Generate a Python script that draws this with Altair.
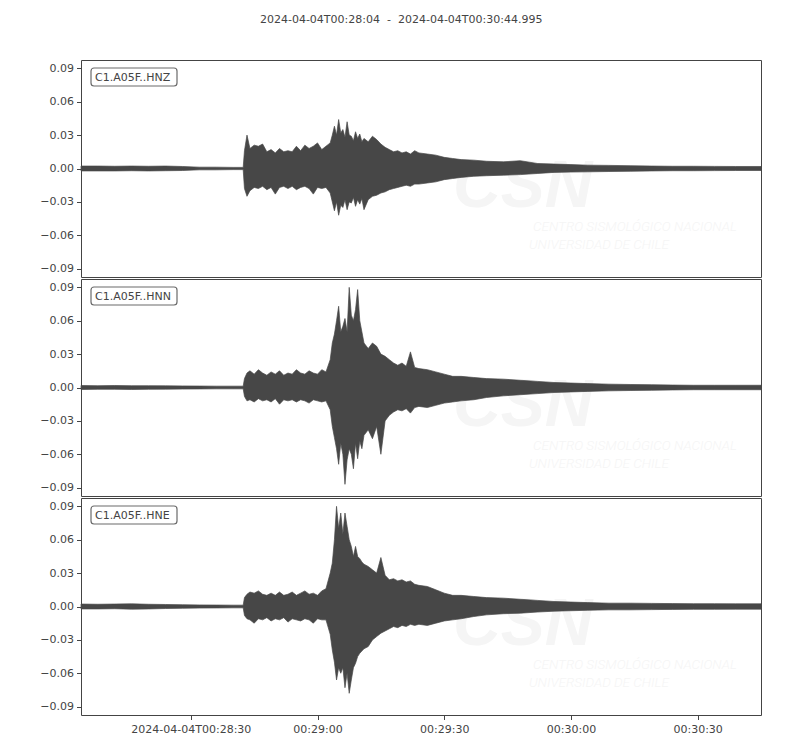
"""
Three-component accelerogram C1.A05F (HNZ, HNN, HNE), drawn as amplitude envelopes
"""
import pandas as pd
import altair as alt

# seconds after 2024-04-04T00:28:04
t_sec = [0, 4, 8, 12, 16, 20, 24, 28, 32, 36,
         38.4, 38.7, 39.3,
         40, 41, 42, 43, 44, 45, 46, 47, 48, 49, 50, 51, 52, 53, 54, 55, 56, 57, 58,
         59, 59.5, 60, 60.5, 61, 61.5, 62, 62.5, 63, 63.5, 64, 64.5, 65, 65.5, 66, 66.5, 67,
         68, 69, 70, 71, 72, 73, 74, 75, 76, 77, 78, 79, 80,
         82, 84, 86, 88, 90, 93, 96, 100, 104, 108, 112, 116, 120, 125, 130, 135, 140, 145, 150, 155, 160.995]

hnz_hi = [.0022, .0022, .0020, .0022, .0020, .0022, .0018, .0012, .0012, .0010,
          .0010, .016, .030,
          .018, .021, .020, .022, .015, .017, .014, .018, .015, .016, .015, .020, .016, .021, .018, .020, .023, .017, .020,
          .023, .030, .038, .030, .044, .032, .035, .028, .042, .030, .029, .025, .033, .027, .031, .024, .027,
          .024, .029, .026, .022, .019, .017, .015, .016, .014, .015, .013, .016, .014,
          .013, .012, .010, .009, .008, .0075, .0065, .006, .007, .0045, .004, .0035, .003, .0028, .0025, .0022, .002, .002, .0019, .0018, .0018]
hnz_lo = [-.0022, -.0022, -.0022, -.0020, -.0022, -.0020, -.0018, -.0012, -.0012, -.0010,
          -.0010, -.018, -.025,
          -.020, -.017, -.018, -.016, -.019, -.017, -.023, -.017, -.016, -.018, -.016, -.019, -.017, -.016, -.018, -.023, -.017, -.018, -.017,
          -.022, -.030, -.038, -.030, -.042, -.033, -.035, -.028, -.037, -.030, -.031, -.026, -.034, -.028, -.032, -.027, -.037,
          -.028, -.025, -.024, -.022, -.021, -.019, -.018, -.017, -.016, -.015, -.016, -.014, -.014,
          -.013, -.012, -.010, -.009, -.008, -.007, -.0065, -.006, -.0055, -.0045, -.0035, -.0032, -.003, -.0027, -.0025, -.0022, -.002, -.002, -.0019, -.0018, -.0018]

hnn_hi = [.0018, .0016, .0018, .0016, .0016, .0015, .0014, .0013, .0012, .0012,
          .0012, .008, .013,
          .015, .012, .016, .013, .011, .014, .012, .015, .011, .013, .012, .016, .013, .012, .015, .013, .012, .016, .014,
          .025, .040, .048, .060, .073, .050, .055, .062, .050, .090, .065, .060, .070, .088, .060, .050, .040,
          .035, .040, .037, .030, .028, .025, .022, .020, .022, .019, .032, .018, .017,
          .016, .014, .012, .010, .010, .009, .008, .0075, .0065, .0055, .0045, .004, .0035, .003, .0027, .0025, .0022, .002, .002, .002, .002]
hnn_lo = [-.0018, -.0016, -.0016, -.0018, -.0016, -.0015, -.0014, -.0013, -.0012, -.0012,
          -.0012, -.008, -.012,
          -.011, -.013, -.010, -.012, -.011, -.013, -.010, -.015, -.011, -.012, -.011, -.013, -.011, -.012, -.014, -.011, -.012, -.013, -.012,
          -.020, -.035, -.045, -.055, -.069, -.050, -.060, -.087, -.065, -.055, -.060, -.073, -.050, -.064, -.048, -.055, -.043,
          -.038, -.046, -.035, -.060, -.030, -.025, -.022, -.020, -.021, -.019, -.023, -.018, -.017,
          -.018, -.016, -.014, -.013, -.012, -.011, -.009, -.0075, -.0065, -.0055, -.0045, -.004, -.0035, -.003, -.0027, -.0025, -.0022, -.002, -.002, -.002, -.002]

hne_hi = [.0022, .0020, .0022, .0024, .0020, .0018, .0016, .0014, .0013, .0012,
          .0012, .008, .011,
          .013, .012, .014, .011, .010, .012, .010, .013, .010, .011, .013, .010, .012, .014, .011, .012, .010, .014, .016,
          .030, .039, .060, .090, .070, .084, .065, .084, .072, .060, .054, .045, .054, .045, .043, .040, .038,
          .036, .033, .030, .044, .028, .024, .025, .023, .024, .022, .023, .020, .019,
          .018, .015, .012, .010, .010, .009, .008, .0075, .0065, .0055, .0045, .004, .0035, .003, .003, .0028, .0026, .0025, .0025, .0024, .0024]
hne_lo = [-.0022, -.0022, -.0020, -.0024, -.0022, -.0018, -.0016, -.0014, -.0013, -.0012,
          -.0012, -.008, -.011,
          -.012, -.015, -.011, -.012, -.010, -.013, -.011, -.012, -.010, -.014, -.011, -.012, -.013, -.011, -.012, -.015, -.011, -.012, -.012,
          -.025, -.039, -.050, -.066, -.055, -.060, -.055, -.073, -.060, -.078, -.066, -.055, -.051, -.045, -.042, -.040, -.038,
          -.036, -.030, -.027, -.024, -.022, -.020, -.018, -.019, -.017, -.018, -.016, -.017, -.016,
          -.017, -.015, -.013, -.012, -.011, -.009, -.0075, -.0065, -.006, -.005, -.0042, -.0038, -.0034, -.003, -.003, -.0028, -.0026, -.0025, -.0025, -.0024, -.0024]

channels = ["C1.A05F..HNZ", "C1.A05F..HNN", "C1.A05F..HNE"]
# non-breaking spaces keep the double gaps around the dash
title_text = "2024-04-04T00:28:04\u00a0\u00a0-\u00a0\u00a02024-04-04T00:30:44.995"

x_tick_sec = [26, 56, 86, 116, 146]
x_tick_labels = ["2024-04-04T00:28:30", "00:29:00", "00:29:30", "00:30:00", "00:30:30"]
y_ticks = [-0.09, -0.06, -0.03, 0.0, 0.03, 0.06, 0.09]

TRACE = "#474747"
TEXT = "#444444"
FONT = "DejaVu Sans"
WMARK = "#f5f5f5"

label_expr = "[{}][indexof([{}], datum.value)]".format(
    ",".join("'%s'" % s for s in x_tick_labels),
    ",".join(str(v) for v in x_tick_sec),
)


def make_panel(name, hi, lo, bottom):
    df = pd.DataFrame({"t": t_sec, "hi": hi, "lo": lo})

    if bottom:
        x_axis = alt.Axis(values=x_tick_sec, labelExpr=label_expr, title=None,
                          labelPadding=4)
    else:
        x_axis = None

    x = alt.X("t:Q", scale=alt.Scale(domain=[0, 160.995], nice=False, zero=False),
              axis=x_axis)
    y = alt.Y("hi:Q", scale=alt.Scale(domain=[-0.0975, 0.0975], nice=False, zero=False),
              axis=alt.Axis(values=y_ticks, format=".2f", title=None,
                            minExtent=67, maxExtent=67, labelPadding=3))

    one = pd.DataFrame({"label": [name]})

    # faint CSN watermark behind the trace
    wm_big = alt.Chart(one).mark_text(
        align="left", baseline="alphabetic", font="Liberation Sans",
        fontStyle="italic", fontWeight="bold", fontSize=66, color=WMARK, clip=True
    ).encode(x=alt.value(372), y=alt.value(147), text=alt.value("CSN"))
    wm_l1 = alt.Chart(one).mark_text(
        align="left", baseline="alphabetic", font="Roboto",
        fontStyle="italic", fontWeight=300, fontSize=13.5, color=WMARK, clip=True
    ).encode(x=alt.value(452), y=alt.value(171),
             text=alt.value("CENTRO SISMOLÓGICO NACIONAL"))
    wm_l2 = alt.Chart(one).mark_text(
        align="left", baseline="alphabetic", font="Roboto",
        fontStyle="italic", fontWeight=300, fontSize=13.5, color=WMARK, clip=True
    ).encode(x=alt.value(448), y=alt.value(189),
             text=alt.value("UNIVERSIDAD DE CHILE"))

    trace = alt.Chart(df).mark_area(
        color=TRACE, stroke=TRACE, strokeWidth=0.7, opacity=1
    ).encode(x=x, y=y, y2="lo:Q")

    box = alt.Chart(one).mark_rect(
        fill="white", stroke="#6a6a6a", strokeWidth=1.2, cornerRadius=3
    ).encode(x=alt.value(10), x2=alt.value(96), y=alt.value(8), y2=alt.value(26))
    label = alt.Chart(one).mark_text(
        align="left", baseline="middle", font=FONT, fontSize=11, color=TEXT
    ).encode(x=alt.value(14), y=alt.value(17.5), text="label:N")

    return alt.layer(wm_big, wm_l1, wm_l2, trace, box, label).properties(
        width=680, height=217
    )


panels = [
    make_panel(channels[0], hnz_hi, hnz_lo, False),
    make_panel(channels[1], hnn_hi, hnn_lo, False),
    make_panel(channels[2], hne_hi, hne_lo, True),
]

chart = alt.vconcat(*panels, spacing=0).properties(
    title=alt.TitleParams(
        text=title_text, fontSize=11, font=FONT, fontWeight="normal",
        color=TEXT, anchor="middle", offset=35, dx=13
    )
).configure(
    background="white"
).configure_view(
    stroke=TEXT, strokeWidth=1
).configure_axis(
    grid=False, domain=False, tickColor=TEXT, tickSize=4.5, tickWidth=1,
    labelColor=TEXT, labelFont=FONT, labelFontSize=11
)

chart.save("out.html", embed_options={"renderer": "svg", "actions": False})
